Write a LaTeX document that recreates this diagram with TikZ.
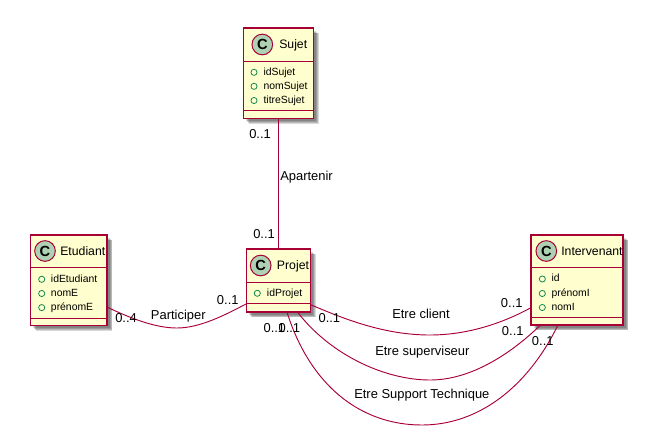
\documentclass[tikz,border=0pt]{standalone}
\usepackage{fontspec}
\setmainfont{Liberation Sans}
\definecolor{umlred}{HTML}{A80036}
\definecolor{umlfill}{HTML}{FEFECE}
\definecolor{spotfill}{HTML}{ADD1B2}
\definecolor{memgreen}{HTML}{038048}
\tikzset{
  x=0.75pt,y=-0.75pt,
  classbox/.style={draw=umlred,fill=umlfill,line width=.85pt,inner sep=0pt,outer sep=0pt},
  softshadow/.style={fill=black,opacity=.15},
  divider/.style={draw=umlred,line width=.75pt},
  spot/.style={circle,draw=umlred,fill=spotfill,line width=.75pt,minimum size=15.5pt,inner sep=0pt,
    font=\fontsize{11pt}{12pt}\selectfont\bfseries,text=black},
  classname/.style={anchor=west,inner sep=0pt,font=\fontsize{9.2pt}{11pt}\selectfont,text height=7pt,text depth=2pt},
  member/.style={anchor=west,inner sep=0pt,font=\fontsize{7.8pt}{10pt}\selectfont,text height=6.2pt,text depth=1.8pt},
  pub/.style={circle,draw=memgreen,line width=.55pt,minimum size=4.6pt,inner sep=0pt},
  edgetext/.style={anchor=west,inner sep=0pt,font=\fontsize{9.7pt}{11pt}\selectfont,text height=7pt,text depth=2pt},
  assoc/.style={draw=umlred,line width=.7pt},
}
\newcommand{\umlbox}[8]{%
  \foreach \sh in {2.5,3.5,4.5,5.2}{\fill[softshadow] ({#2+\sh},{#3+\sh}) rectangle ({#4+\sh},{#5+\sh});}
  \node[classbox,minimum width={(#4-#2)*0.75pt},minimum height={(#5-#3)*0.75pt}] (#1) at ({(#2+#4)/2},{(#3+#5)/2}) {};
  \draw[divider] (#1.west |- 0,#6) -- (#1.east |- 0,#6);
  \draw[divider] (#1.west |- 0,#7) -- (#1.east |- 0,#7);
  \node[spot] (#1spot) at (#8,{(#3+#6)/2}) {C};
}
\begin{document}
\begin{tikzpicture}
\useasboundingbox (0,0) rectangle (666,436);
\fill[white] (0,0) rectangle (666,436);

\umlbox{sujet}{243.5}{28}{313.5}{118.5}{61}{110}{262.3}
\umlbox{etudiant}{30.5}{235}{107}{325.5}{267}{318}{45}
\umlbox{projet}{246.5}{249}{310.5}{312}{282}{303}{260.7}
\umlbox{intervenant}{531}{235}{623}{325}{267}{317}{546.3}

\node[classname] (nsujet) at (279,45) {Sujet};
\node[classname] (netudiant) at (60,252) {Etudiant};
\node[classname] (nprojet) at (276.7,266) {Projet};
\node[classname] (nintervenant) at (561,252) {Intervenant};

\node[pub] (c1) at (254,72.3) {};
\node[pub] (c2) at (254,86.3) {};
\node[pub] (c3) at (254,100.5) {};
\node[member] (m1) at (263.3,72.3) {idSujet};
\node[member] (m2) at (263.3,86.3) {nomSujet};
\node[member] (m3) at (263.3,100.5) {titreSujet};

\node[pub] (c4) at (41.7,279.3) {};
\node[pub] (c5) at (41.7,293.5) {};
\node[pub] (c6) at (41.7,307.6) {};
\node[member] (m4) at (50.7,279.3) {idEtudiant};
\node[member] (m5) at (50.7,293.5) {nomE};
\node[member] (m6) at (50.7,307.6) {prénomE};

\node[pub] (c7) at (257.3,293.3) {};
\node[member] (m7) at (266.7,293.3) {idProjet};

\node[pub] (c8) at (542.3,279) {};
\node[pub] (c9) at (542.3,293.5) {};
\node[pub] (c10) at (542.3,307.5) {};
\node[member] (m8) at (551.3,279) {id};
\node[member] (m9) at (551.3,293.5) {prénomI};
\node[member] (m10) at (551.3,307.5) {nomI};

\coordinate (lowP) at (177,328);
\coordinate (lowC) at (430,335);
\coordinate (lowS) at (430,380);
\coordinate (lowT) at (422,425);

\draw[assoc] (sujet.south) -- (sujet.south |- projet.north);
\draw[assoc] (etudiant.-35) .. controls +(23,11) and +(-22,0) .. (lowP) .. controls +(23,0) and +(-21,11) .. (projet.216.3);
\draw[assoc] (projet.-37) .. controls +(35,15) and +(-45,0) .. (lowC) .. controls +(35,0) and +(-31,17) .. (intervenant.211.3);
\draw[assoc] (projet.-59.6) .. controls +(33,43) and +(-45,0) .. (lowS) .. controls +(40,0) and +(-31,30) .. (intervenant.231.3);
\draw[assoc] (projet.-75) .. controls +(23,73) and +(-62,0) .. (lowT) .. controls +(58,0) and +(-29,60) .. (intervenant.247.9);

\node[edgetext] (l1) at (249,135) {0..1};
\node[edgetext] (l2) at (280,177) {Apartenir};
\node[edgetext] (l3) at (253,235) {0..1};
\node[edgetext] (l4) at (115,319) {0..4};
\node[edgetext] (l5) at (150.7,315.7) {Participer};
\node[edgetext] (l6) at (216.7,301) {0..1};
\node[edgetext] (l7) at (263.3,329) {0..1};
\node[edgetext] (l8) at (278.3,329) {0..1};
\node[edgetext] (l9) at (318.3,319.3) {0..1};
\node[edgetext] (l10) at (392,315) {Etre client};
\node[edgetext] (l11) at (375,352) {Etre superviseur};
\node[edgetext] (l12) at (354,395) {Etre Support Technique};
\node[edgetext] (l13) at (500.7,304.3) {0..1};
\node[edgetext] (l14) at (501.7,331.7) {0..1};
\node[edgetext] (l15) at (531.7,342.3) {0..1};
\end{tikzpicture}
\end{document}
